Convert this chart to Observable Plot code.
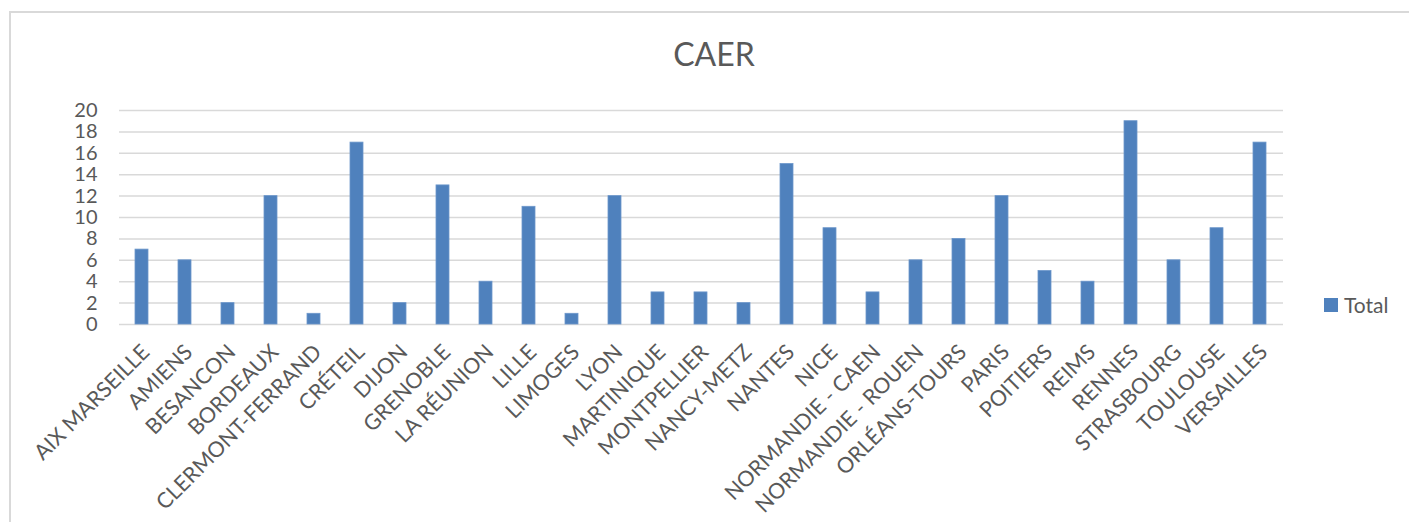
<!DOCTYPE html>
<html>
<head>
<meta charset="utf-8">
<script src="https://cdn.jsdelivr.net/npm/d3@7"></script>
<script src="https://cdn.jsdelivr.net/npm/@observablehq/plot@0.6"></script>
<style>
  html, body { margin: 0; padding: 0; background: #fff; overflow: hidden; }
  #wrap { position: relative; width: 1409px; height: 522px; overflow: hidden; font-family: Lato, "Open Sans", sans-serif; }
  #frame { position: absolute; left: 9px; top: 11px; width: 1500px; height: 600px; border-top: 2px solid #d9d9d9; border-left: 2px solid #d9d9d9; box-sizing: border-box; }
  #title { position: absolute; left: 0; width: 1428px; top: 38px; text-align: center; font-size: 32px; line-height: 32px; color: #595959; }
  #legend { position: absolute; left: 1324px; top: 294px; display: flex; align-items: center; font-size: 21px; line-height: 21px; color: #595959; }
  #legend .sw { width: 14px; height: 14px; background: #4F81BD; margin-right: 6px; }
  #chart { position: absolute; left: 0; top: 0; }
  #chart svg { background: none !important; }
</style>
</head>
<body>
<div id="wrap">
  <div id="frame"></div>
  <div id="chart"></div>
  <div id="title">CAER</div>
  <div id="legend"><div class="sw"></div><span id="legendLabel"></span></div>
</div>
<script>
const title = "CAER";
const seriesName = "Total";
const categories = [
  "AIX MARSEILLE", "AMIENS", "BESANCON", "BORDEAUX", "CLERMONT-FERRAND",
  "CRÉTEIL", "DIJON", "GRENOBLE", "LA RÉUNION", "LILLE", "LIMOGES", "LYON",
  "MARTINIQUE", "MONTPELLIER", "NANCY-METZ", "NANTES", "NICE",
  "NORMANDIE - CAEN", "NORMANDIE - ROUEN", "ORLÉANS-TOURS", "PARIS",
  "POITIERS", "REIMS", "RENNES", "STRASBOURG", "TOULOUSE", "VERSAILLES"
];
const totals = [7, 6, 2, 12, 1, 17, 2, 13, 4, 11, 1, 12, 3, 3, 2, 15, 9, 3, 6, 8, 12, 5, 4, 19, 6, 9, 17];
const yTicks = [0, 2, 4, 6, 8, 10, 12, 14, 16, 18, 20];

const data = categories.map((c, i) => ({category: c, value: totals[i]}));

document.getElementById("title").textContent = title;
document.getElementById("legendLabel").textContent = seriesName;

const chart = Plot.plot({
  width: 1409,
  height: 522,
  marginLeft: 119,
  marginRight: 126,
  marginTop: 110,
  marginBottom: 198,
  style: {fontFamily: "Lato, 'Open Sans', sans-serif", background: "none", color: "#595959"},
  x: {domain: categories, paddingInner: 0.69, paddingOuter: 0.345, label: null},
  y: {domain: [0, 20], label: null},
  marks: [
    Plot.gridY(yTicks, {stroke: "#d9d9d9", strokeOpacity: 1, strokeWidth: 1.5}),
    Plot.barY(data, {x: "category", y: "value", fill: "#4F81BD", stroke: "#6d97cb", strokeWidth: 0.8}),
    Plot.axisY({ticks: yTicks, tickSize: 0, tickPadding: 22, fontSize: 20, color: "#595959", label: null}),
    Plot.axisX({tickRotate: -45, tickSize: 0, tickPadding: 24, dx: 4, fontSize: 21.5, color: "#595959", label: null})
  ]
});
document.getElementById("chart").appendChild(chart);
</script>
</body>
</html>
